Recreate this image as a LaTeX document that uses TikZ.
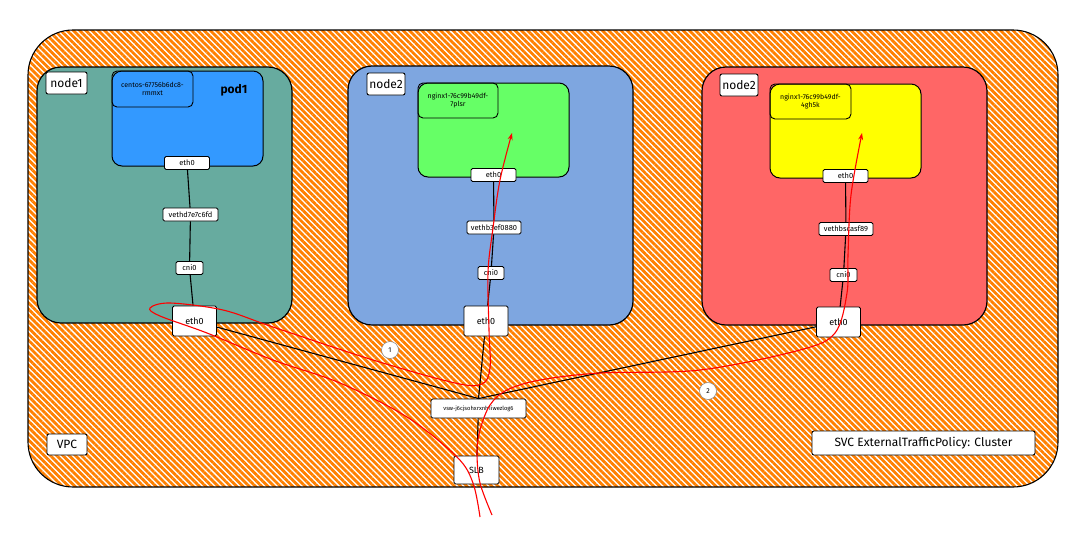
\documentclass[tikz,border=0pt]{standalone}
\usepackage{fontspec}
\setmainfont{Fira Sans}
\usepackage{xcolor}
\usetikzlibrary{arrows.meta,patterns.meta}
\definecolor{vpcorange}{HTML}{FF8000}
\definecolor{hostteal}{HTML}{67AB9F}
\definecolor{hostblue}{HTML}{7EA6E0}
\definecolor{hostred}{HTML}{FF6666}
\definecolor{podblue}{HTML}{3399FF}
\definecolor{podgreen}{HTML}{66FF66}
\definecolor{podyellow}{HTML}{FFFF00}
\definecolor{flowred}{HTML}{FF0000}
\tikzset{
  hostbox/.style={draw,line width=1.2pt,rounded corners=24pt,inner sep=0pt},
  podbox/.style={draw,line width=1pt,rounded corners=10pt,inner sep=0pt},
  podtag/.style={draw,line width=0.9pt,rounded corners=5pt,inner sep=0pt,align=center,font=\fontsize{7}{8.5}\selectfont},
  tagbox/.style={draw,fill=white,line width=0.9pt,rounded corners=2pt,inner sep=0pt,font=\fontsize{12}{13}\selectfont},
  ifbox/.style={draw,fill=white,line width=0.9pt,rounded corners=1.5pt,inner sep=0pt,minimum height=13pt,font=\fontsize{7.5}{8}\selectfont},
  wire/.style={line width=1.1pt},
  flow/.style={draw=flowred,line width=1.1pt},
  stepmark/.style={circle,draw=gray,fill=white,line width=0.5pt,inner sep=0pt,minimum size=17pt,font=\fontsize{7}{8}\selectfont}
}
\newcommand{\ifnode}[4]{\node[ifbox,minimum width=#3] (#1) at (#2) {#4};}
\newcommand{\hostif}[2]{\node[ifbox,minimum width=44pt,minimum height=30pt,font=\fontsize{9}{10}\selectfont] (#1) at (#2) {eth0};}

\begin{document}
\begin{tikzpicture}[x=1pt,y=-1pt]
\useasboundingbox (0,0) rectangle (1080,542);
\fill[white] (0,0) rectangle (1080,542);

% ---- VPC area
\path[pattern={Lines[angle=-45,distance=4.4pt,line width=2.8pt]},pattern color=vpcorange,
  draw=black,line width=1.1pt,rounded corners=45pt] (28,30) rectangle (1058,487);

% ---- hosts
\node[hostbox,fill=hostteal,minimum width=255pt,minimum height=256pt] (host1) at (164.5,195) {};
\node[hostbox,fill=hostblue,minimum width=285pt,minimum height=259pt] (host2) at (490.5,195.5) {};
\node[hostbox,fill=hostred,minimum width=285pt,minimum height=258pt] (host3) at (844.5,196) {};
\node[tagbox,minimum width=41pt,minimum height=22pt] (host1tag) at (66.5,83) {node1};
\node[tagbox,minimum width=38pt,minimum height=22pt] (host2tag) at (386,84) {node2};
\node[tagbox,minimum width=38pt,minimum height=22pt] (host3tag) at (739,85) {node2};

% ---- pods
\node[podbox,fill=podblue,minimum width=151pt,minimum height=95pt] (pod1) at (187.5,118.5) {};
\node[podtag,minimum width=81pt,minimum height=36pt] (pod1tag) at (152.5,89) {centos-67756b6dc8-\\rmmxt};
\node[font=\bfseries\fontsize{12}{13}\selectfont] (pod1name) at (234,90) {pod1};
\node[podbox,fill=podgreen,minimum width=151pt,minimum height=94pt] (pod2) at (493.5,130) {};
\node[podtag,minimum width=80pt,minimum height=35pt] (pod2tag) at (458,100.5) {nginx1-76c99b49df-\\7plsr};
\node[podbox,fill=podyellow,minimum width=151pt,minimum height=94pt] (pod3) at (845.5,131) {};
\node[podtag,minimum width=81pt,minimum height=35pt] (pod3tag) at (810.5,101.5) {nginx1-76c99b49df-\\4gh5k};

% ---- interfaces
\ifnode{p1eth}{187,163}{45pt}{eth0}
\ifnode{veth1}{190.5,214.5}{55pt}{vethd7e7c6fd}
\ifnode{cni1}{189.5,268}{27pt}{cni0}
\hostif{h1eth}{194.5,321}
\ifnode{p2eth}{493.5,175}{45pt}{eth0}
\ifnode{veth2}{494,227.5}{54pt}{vethb3ef0880}
\ifnode{cni2}{491,273}{26pt}{cni0}
\hostif{h2eth}{486,321}
\ifnode{p3eth}{845.5,176}{45pt}{eth0}
\ifnode{veth3}{846,229}{54pt}{vethbscasf89}
\ifnode{cni3}{843.5,275}{27pt}{cni0}
\hostif{h3eth}{838.5,322}
\node[ifbox,minimum width=95pt,minimum height=19pt,font=\fontsize{5.8}{6}\selectfont] (vsw) at (478.5,408.5) {vsw-j6cjsohxrxnh1iwezlog6};
\node[ifbox,minimum width=45pt,minimum height=28pt,font=\fontsize{9}{10}\selectfont] (slb) at (476.5,470) {SLB};

% ---- labels
\node[tagbox,minimum width=40pt,minimum height=21pt] (vpctag) at (67,444.5) {VPC};
\node[tagbox,minimum width=223pt,minimum height=24pt] (svctag) at (923.5,443) {SVC ExternalTrafficPolicy: Cluster};

% ---- wires
\draw[wire] (p1eth) -- (veth1) -- (cni1) -- (h1eth);
\draw[wire] (p2eth) -- (veth2) -- (cni2) -- (h2eth);
\draw[wire] (p3eth) -- (veth3) -- (cni3) -- (h3eth);
\draw[wire] (h1eth) -- (vsw.north);
\draw[wire] (h2eth) -- (vsw.north);
\draw[wire] (h3eth) -- (vsw.north);
\draw[wire] (vsw) -- (slb);

% ---- traffic
\coordinate (in1) at (480,517);
\coordinate (tip1) at (512,133);
\coordinate (in2) at (492,515);
\coordinate (tip2) at (862,133);
\draw[flow,-{Stealth[length=7pt,width=5pt]}] plot[smooth,tension=0.55] coordinates {(in1) (473,483) (457,457) (407,417) (340,383) (273,360) (207,333) (160,316) (150,308) (170,303) (223,310) (273,327) (373,360) (455,383) (482,384) (490,368) (489,330) (488,272) (493,228) (500,180) (tip1)};
\draw[flow,-{Stealth[length=7pt,width=5pt]}] plot[smooth,tension=0.55] coordinates {(in2) (480,483) (477,453) (480,430) (490,405) (507,390) (540,380) (600,373) (700,370) (800,350) (835,333) (847,293) (848,255) (851,195) (tip2)};
\node[stepmark] (mark1) at (390,350) {1};
\node[stepmark] (mark2) at (708,391) {2};
\end{tikzpicture}
\end{document}
